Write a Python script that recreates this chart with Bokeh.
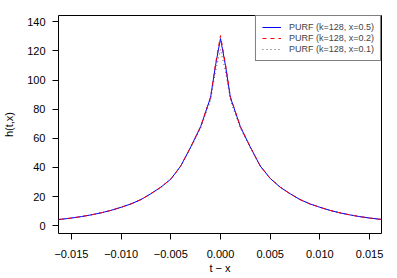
from bokeh.plotting import figure
from bokeh.models import Range1d, FixedTicker, CustomJSTickFormatter, Legend, LegendItem
from bokeh.embed import file_html
from bokeh.resources import INLINE

# ---- data ----
t = [-0.017, -0.016, -0.015, -0.014, -0.013, -0.012, -0.011, -0.010, -0.009,
     -0.008, -0.007, -0.006, -0.005, -0.004, -0.003, -0.002, -0.001, -0.0005,
     0.0,
     0.0005, 0.001, 0.002, 0.003, 0.004, 0.005, 0.006, 0.007, 0.008,
     0.009, 0.010, 0.011, 0.012, 0.013, 0.014, 0.015, 0.016, 0.017]

h_x05 = [3.9, 4.5, 5.3, 6.3, 7.5, 8.9, 10.6, 12.7, 15.0,
         18.0, 22.0, 26.5, 32.0, 41.0, 54.0, 68.0, 88.0, 110.0,
         128.5,
         110.0, 88.0, 68.0, 54.0, 41.0, 32.5, 26.5, 22.0, 18.0,
         15.0, 12.7, 10.6, 8.9, 7.5, 6.3, 5.3, 4.5, 3.9]

h_x02 = [3.9, 4.5, 5.3, 6.3, 7.5, 8.9, 10.6, 12.7, 15.0,
         18.0, 22.0, 26.5, 32.0, 41.0, 54.0, 68.0, 88.5, 111.0,
         130.5,
         111.0, 88.5, 68.0, 54.0, 41.0, 32.5, 26.5, 22.0, 18.0,
         15.0, 12.7, 10.6, 8.9, 7.5, 6.3, 5.3, 4.5, 3.9]

h_x01 = [3.9, 4.5, 5.3, 6.3, 7.5, 8.9, 10.6, 12.7, 15.0,
         18.0, 22.0, 26.5, 32.0, 41.0, 53.5, 67.0, 86.0, 106.0,
         121.0,
         106.0, 86.0, 67.0, 53.5, 41.0, 32.5, 26.5, 22.0, 18.0,
         15.0, 12.7, 10.6, 8.9, 7.5, 6.3, 5.3, 4.5, 3.9]

series_labels = ["PURF (k=128, x=0.5)", "PURF (k=128, x=0.2)", "PURF (k=128, x=0.1)"]
x_ticks = [-0.015, -0.010, -0.005, 0.0, 0.005, 0.010, 0.015]
y_ticks = [0, 20, 40, 60, 80, 100, 120, 140]
x_title = "t \u2212 x"
y_title = "h(t,x)"

FONT = "Liberation Sans"

p = figure(width=397, height=278, output_backend="svg", toolbar_location=None,
           x_range=Range1d(-0.0163, 0.0162), y_range=Range1d(-5.3, 144.3),
           min_border_left=58, min_border_right=16, min_border_top=15,
           min_border_bottom=45,
           x_axis_label=x_title, y_axis_label=y_title)
p.grid.visible = False
p.outline_line_color = "black"
p.outline_line_width = 1
p.background_fill_color = "white"
p.border_fill_color = "white"

r_gray = p.line(t, h_x01, line_color="#555555", line_dash="1 3", line_width=1)
r_blue = p.line(t, h_x05, line_color="#0000ff", line_width=1)
r_red = p.line(t, h_x02, line_color="#ff0000", line_dash="4 4", line_width=1)

p.xaxis.ticker = FixedTicker(ticks=x_ticks)
p.yaxis.ticker = FixedTicker(ticks=y_ticks)
p.xaxis.formatter = CustomJSTickFormatter(
    code="return (tick < 0 ? '\\u2212' : '') + Math.abs(tick).toFixed(3);")

for ax in p.axis:
    ax.axis_line_color = None
    ax.major_tick_line_color = "black"
    ax.major_tick_out = 6
    ax.major_tick_in = 0
    ax.minor_tick_out = 0
    ax.minor_tick_in = 0
    ax.major_label_text_font = FONT
    ax.major_label_text_font_size = "11px"
    ax.major_label_text_color = "black"
    ax.axis_label_text_font = FONT
    ax.axis_label_text_font_size = "11px"
    ax.axis_label_text_font_style = "normal"
    ax.axis_label_text_color = "black"

p.xaxis.major_label_standoff = 10
p.xaxis.axis_label_standoff = 1
p.yaxis.major_label_standoff = 7
p.yaxis.axis_label_standoff = 9

legend = Legend(items=[LegendItem(label=series_labels[0], renderers=[r_blue]),
                       LegendItem(label=series_labels[1], renderers=[r_red]),
                       LegendItem(label=series_labels[2], renderers=[r_gray])],
                location="top_right", margin=0, padding=6, spacing=1,
                label_height=10, glyph_height=10, glyph_width=19,
                label_standoff=8, label_text_font=FONT,
                label_text_font_size="9px",
                border_line_color="black", border_line_width=1,
                background_fill_color="white", background_fill_alpha=1.0)
p.add_layout(legend)

open("out.html", "w").write(file_html(p, INLINE))
